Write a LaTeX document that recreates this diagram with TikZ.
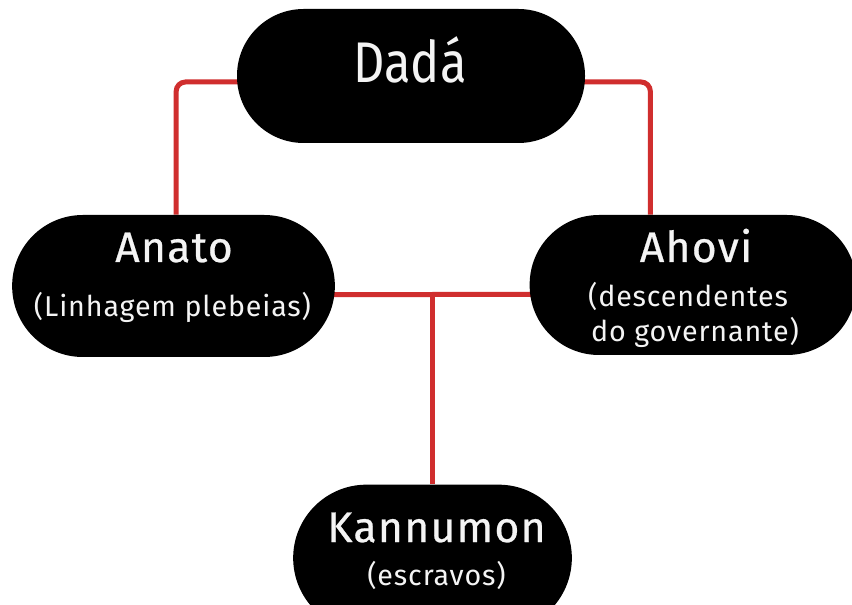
\documentclass[tikz,border=0pt]{standalone}
\usepackage{fontspec}
\setmainfont{Fira Sans}
\usetikzlibrary{backgrounds}
\definecolor{linkred}{RGB}{208,46,46}
\definecolor{txtwhite}{RGB}{244,244,244}
\tikzset{
  pill/.style={fill=black, draw=none, rounded corners=#1, inner sep=0pt},
  link/.style={draw=linkred, line width=3.75pt, rounded corners=7pt},
  bigtxt/.style={text=txtwhite, inner sep=0pt, anchor=base, font=\fontsize{43}{50}\selectfont},
  nametxt/.style={text=txtwhite, inner sep=0pt, anchor=base, font=\fontsize{32}{38}\selectfont\addfontfeature{LetterSpace=3,FakeBold=0.6}},
  subtxt/.style={text=txtwhite, inner sep=0pt, anchor=base, font=\fontsize{21.5}{26}\selectfont\addfontfeature{LetterSpace=3}}
}
\begin{document}
\begin{tikzpicture}[x=0.75pt, y=-0.75pt]
\useasboundingbox (0,0) rectangle (852,605);
% boxes
\node[pill=50pt, minimum width=261pt, minimum height=100.5pt] (dada) at (411,76) {};
\node[pill=53pt, minimum width=242pt, minimum height=106.5pt] (anato) at (173.5,286) {};
\node[pill=52pt, minimum width=245pt, minimum height=105pt] (ahovi) at (693,285) {};
\node[pill=55pt, minimum width=209pt, minimum height=110pt] (kann) at (432.5,558) {};
% texts
\node[bigtxt, xscale=0.85] (dadat) at (410,83) {Dadá};
\node[nametxt] (anatot) at (174,262) {Anato};
\node[subtxt] (anatos) at (172.5,317) {(Linhagem plebeias)};
\node[nametxt] (ahovit) at (696,262) {Ahovi};
\node[subtxt] (ahovis1) at (688,307) {(descendentes};
\node[subtxt] (ahovis2) at (695,342) {do governante)};
\node[nametxt] (kannt) at (436.5,542) {Kannumon};
\node[subtxt] (kanns) at (436.5,585) {(escravos)};
% connectors
\coordinate (jn) at (435,295);
\begin{pgfonlayer}{background}
\fill[white] (0,0) rectangle (852,605);
\draw[link] ([yshift=-4.5pt]dada.center) -| ([xshift=2pt]anato.north);
\draw[link] ([yshift=-4.5pt]dada.center) -| ([xshift=-32pt]ahovi.north);
\draw[link] ([yshift=-6.75pt]anato.center) -- ([yshift=-6.75pt]ahovi.center);
\draw[link, rounded corners=0pt] (kann.north |- jn) -- (kann.north);
\end{pgfonlayer}
\end{tikzpicture}
\end{document}
